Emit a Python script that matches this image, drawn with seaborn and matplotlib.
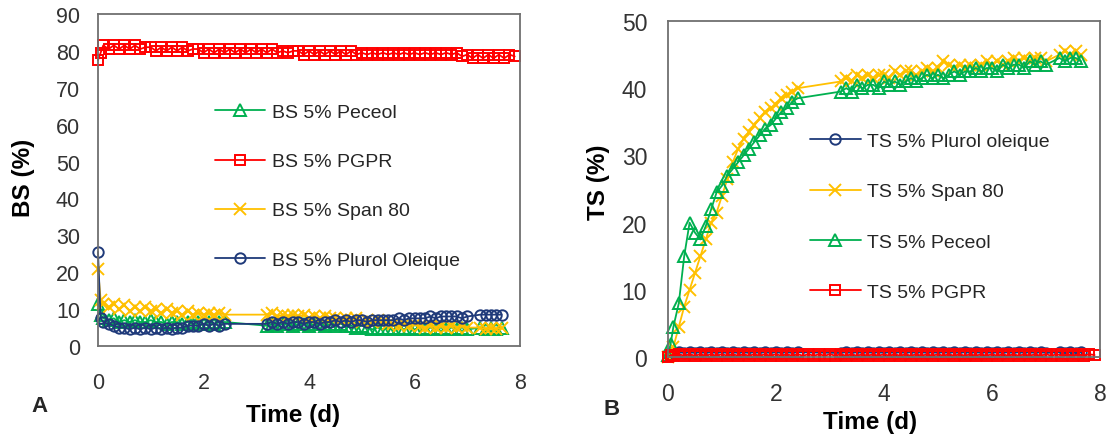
import numpy as np
import pandas as pd
import matplotlib
matplotlib.use("Agg")
import matplotlib.pyplot as plt
import seaborn as sns

# ---------------- data ----------------
# sampling times (days) for the Peceol / Span 80 / Plurol series
time_main = [0.0, 0.05, 0.1, 0.2, 0.3, 0.4, 0.5, 0.6, 0.7, 0.8, 0.9, 1.0, 1.1, 1.2, 1.3,
             1.4, 1.5, 1.6, 1.7, 1.8, 1.9, 2.0, 2.1, 2.2, 2.3, 2.4,
             3.2, 3.3, 3.4, 3.5, 3.6, 3.7, 3.8, 3.9, 4.0, 4.1, 4.2, 4.3, 4.4,
             4.5, 4.6, 4.7, 4.8, 4.9, 5.0, 5.1, 5.2, 5.3, 5.4, 5.5,
             5.6, 5.7, 5.8, 5.9, 6.0, 6.1, 6.2, 6.3, 6.4, 6.5, 6.6, 6.7, 6.8, 6.9, 7.0,
             7.25, 7.35, 7.45, 7.55, 7.65]
# sampling times (days) for the PGPR series (continuous)
time_pgpr = [0.0, 0.05, 0.1, 0.2, 0.3, 0.4, 0.5, 0.6, 0.7, 0.8, 0.9,
             1.0, 1.1, 1.2, 1.3, 1.4, 1.5, 1.6, 1.7, 1.8,
             1.9, 2.0, 2.1, 2.2, 2.3, 2.4, 2.5, 2.6, 2.7, 2.8, 2.9, 3.0, 3.1, 3.2, 3.3, 3.4, 3.5, 3.6, 3.7,
             3.8, 3.9, 4.0, 4.1, 4.2, 4.3, 4.4, 4.5, 4.6, 4.7, 4.8, 4.9, 5.0, 5.1, 5.2, 5.3,
             5.4, 5.5, 5.6, 5.7, 5.8, 5.9, 6.0, 6.1, 6.2, 6.3, 6.4, 6.5, 6.6, 6.7, 6.8, 6.9,
             7.0, 7.1, 7.2, 7.3, 7.4, 7.5, 7.6, 7.7, 7.8, 7.9]

# ---- Panel A : BS (%) ----
bs_peceol = [11.5, 8.5, 7.5, 7.0, 7.5, 6.5, 7.0, 6.5, 7.0, 6.5, 6.5, 7.0, 6.5, 6.5, 6.0, 6.5,
             6.5, 6.0, 6.5, 6.0, 6.5, 6.0, 6.5, 6.0, 6.5, 6.5,
             5.5, 6.0, 5.5, 6.0, 6.0, 5.5, 6.0, 6.0, 5.5, 6.0, 6.0, 5.5, 6.0,
             5.5, 6.0, 5.5, 5.5, 5.0, 5.5, 5.0, 4.5, 5.0, 4.5, 5.0,
             4.5, 5.0, 4.5, 5.0, 4.5, 5.0, 4.5, 5.0, 4.5, 5.0, 4.5, 5.0, 4.5, 5.0, 4.5,
             5.0, 4.5, 5.0, 4.5, 5.0]
bs_span80 = [21.0, 12.5, 11.5, 10.5, 11.5, 10.0, 11.0, 9.5, 10.5, 9.5, 10.5, 9.5, 10.0, 9.0,
             10.0, 9.0, 9.5, 8.5, 9.5, 8.5, 9.0, 8.5, 9.0, 8.5, 9.0, 8.5,
             8.5, 9.0, 8.0, 8.5, 8.0, 8.5, 8.0, 8.5, 7.5, 8.0, 7.5, 8.0, 7.5,
             7.5, 7.0, 7.5, 7.0, 7.5, 6.5, 7.0, 6.5, 7.0, 6.5, 6.0,
             6.0, 5.5, 6.0, 5.5, 6.0, 5.5, 5.0, 5.5, 5.0, 5.5, 5.0, 5.5, 5.0, 5.5, 5.0,
             5.0, 4.5, 5.0, 4.5, 5.0]
bs_plurol = [25.5, 7.5, 6.5, 6.0, 5.5, 5.0, 5.0, 4.5, 5.0, 4.5, 5.0, 4.5, 5.0, 4.5, 5.0, 4.5,
             5.0, 5.0, 5.5, 5.5, 5.5, 6.0, 5.5, 6.0, 5.5, 6.0,
             6.0, 6.5, 6.0, 6.5, 6.0, 6.5, 6.5, 6.0, 6.5, 6.5, 6.0, 6.5, 6.5,
             7.0, 6.5, 7.0, 6.5, 7.0, 7.0, 6.5, 7.0, 7.0, 7.0, 7.0,
             7.0, 7.5, 7.0, 7.5, 7.5, 7.5, 7.5, 8.0, 7.5, 8.0, 8.0, 8.0, 8.0, 7.5, 8.0,
             8.5, 8.5, 8.5, 8.5, 8.5]
bs_pgpr = [77.5, 79.5,
           81.5, 80.5, 81.5, 80.5, 81.5, 80.5, 81.5, 80.5, 81.0,
           81.0, 80.0, 81.0, 80.0, 81.0, 80.0, 81.0, 80.0, 80.5,
           80.5, 79.5, 80.5, 79.5, 80.5, 79.5, 80.5, 79.5, 80.5, 79.5, 80.5, 79.5, 80.5, 79.5,
           80.5, 79.5, 80.0, 79.5, 80.0,
           80.0, 79.0, 80.0, 79.0, 80.0, 79.0, 80.0, 79.0, 80.0, 79.0, 80.0, 79.0, 79.5, 79.0,
           79.5, 79.0, 79.5, 79.0, 79.5, 79.0, 79.5, 79.0, 79.5, 79.0, 79.5, 79.0, 79.5, 79.0,
           79.5, 79.0, 79.5, 78.5,
           79.0, 78.0, 79.0, 78.0, 79.0, 78.0, 79.0, 78.0, 79.0, 78.5]

# ---- Panel B : TS (%) ----
ts_peceol = [0.3, 2.0, 4.5, 8.0, 15.0, 20.0, 18.5, 17.5, 19.5, 22.0, 24.5, 25.5, 27.0, 28.0,
             29.0, 30.0, 31.0, 32.0, 33.0, 34.0, 34.5, 35.5, 36.5, 37.0, 38.0, 38.5,
             39.5, 40.0, 39.5, 40.5, 40.0, 40.5, 40.5, 40.0, 41.0, 40.5, 41.0, 40.5, 41.0,
             41.5, 41.0, 41.5, 42.0, 41.5, 42.0, 41.5, 42.0, 42.5, 42.0, 42.5,
             42.5, 43.0, 42.5, 43.0, 43.0, 42.5, 43.5, 43.0, 43.5, 43.5, 43.0, 44.0, 43.5, 44.0, 43.5,
             44.5, 44.0, 44.5, 44.5, 44.0]
ts_span80 = [0.0, 0.3, 1.5, 4.5, 7.5, 10.0, 12.5, 15.0, 17.5, 20.0, 21.5, 24.0, 26.5, 29.0,
             31.0, 32.5, 33.5, 34.5, 35.5, 36.5, 37.0, 37.5, 38.5, 39.0, 39.5, 40.0,
             41.0, 41.5, 41.0, 42.0, 41.5, 42.0, 41.5, 42.0, 42.0, 41.5, 42.5, 42.0, 42.5,
             42.5, 42.0, 42.5, 43.0, 42.5, 43.0, 44.0, 43.5, 43.0, 43.5, 43.0,
             43.5, 43.0, 43.5, 44.0, 43.5, 44.0, 43.5, 44.0, 44.5, 44.0, 44.5, 44.0, 44.5, 44.5, 44.0,
             45.0, 45.5, 45.0, 45.5, 45.0]
ts_plurol = [0.4, 0.6, 0.6, 0.7, 0.6, 0.7, 0.6, 0.7, 0.6, 0.7, 0.6, 0.7, 0.6, 0.7, 0.6, 0.7,
             0.6, 0.7, 0.6, 0.7, 0.6, 0.7, 0.6, 0.7, 0.6, 0.7,
             0.6, 0.7, 0.6, 0.7, 0.6, 0.7, 0.6, 0.7, 0.6, 0.7, 0.6, 0.7, 0.6,
             0.7, 0.6, 0.7, 0.6, 0.7, 0.6, 0.7, 0.6, 0.7, 0.6, 0.7,
             0.6, 0.7, 0.6, 0.7, 0.6, 0.7, 0.6, 0.7, 0.6, 0.7, 0.6, 0.7, 0.6, 0.7, 0.6,
             0.7, 0.6, 0.7, 0.6, 0.7]
ts_pgpr = [0.0, 0.3,
           0.2, 0.4, 0.2, 0.4, 0.2, 0.4, 0.2, 0.4, 0.2,
           0.4, 0.2, 0.4, 0.2, 0.4, 0.2, 0.4, 0.2, 0.4,
           0.2, 0.4, 0.2, 0.4, 0.2, 0.4, 0.2, 0.4, 0.2, 0.4, 0.2, 0.4, 0.2, 0.4,
           0.2, 0.4, 0.2, 0.4, 0.2,
           0.4, 0.2, 0.4, 0.2, 0.4, 0.2, 0.4, 0.2, 0.4, 0.2, 0.4, 0.2, 0.4, 0.2,
           0.4, 0.2, 0.4, 0.2, 0.4, 0.2, 0.4, 0.2, 0.4, 0.2, 0.4, 0.2, 0.4, 0.2,
           0.4, 0.2, 0.4, 0.2,
           0.4, 0.2, 0.4, 0.2, 0.4, 0.2, 0.4, 0.2, 0.4, 0.3]

labels_A = ["BS 5% Peceol", "BS 5% PGPR", "BS 5% Span 80", "BS 5% Plurol Oleique"]
labels_B = ["TS 5% Plurol oleique", "TS 5% Span 80", "TS 5% Peceol", "TS 5% PGPR"]
x_ticks = [0, 2, 4, 6, 8]
y_ticks_A = [0, 10, 20, 30, 40, 50, 60, 70, 80, 90]
y_ticks_B = [0, 10, 20, 30, 40, 50]

# ---------------- styling ----------------
sns.set_theme(style="white")
plt.rcParams["font.family"] = ["Liberation Sans", "DejaVu Sans"]

C_GREEN = "#00B050"
C_RED = "#FF0000"
C_YELLOW = "#FFC000"
C_BLUE = "#1F3A7A"
STY = {
    "Peceol": dict(color=C_GREEN, marker="^", ms=8.5),
    "PGPR": dict(color=C_RED, marker="s", ms=7.5),
    "Span 80": dict(color=C_YELLOW, marker="x", ms=8.5),
    "Plurol": dict(color=C_BLUE, marker="o", ms=7.5),
}

W, H = 1113, 439
fig = plt.figure(figsize=(W / 100, H / 100), dpi=100)
fig.patch.set_facecolor("white")

ax1 = fig.add_axes([98 / W, 1 - 347 / H, (520 - 98) / W, (347 - 15) / H])
ax2 = fig.add_axes([668 / W, 1 - 358 / H, (1100 - 668) / W, (358 - 22) / H])


def draw(ax, t, v, key, label):
    s = STY[key]
    df = pd.DataFrame({"t": t, "v": v})
    sns.lineplot(data=df, x="t", y="v", ax=ax, estimator=None, sort=False,
                 color=s["color"], marker=s["marker"], markersize=s["ms"],
                 markerfacecolor="none", markeredgecolor=s["color"],
                 markeredgewidth=1.4, linewidth=1.3, label=label,
                 clip_on=False, legend=False)


# Panel A (series order = legend order)
draw(ax1, time_main, bs_peceol, "Peceol", labels_A[0])
draw(ax1, time_pgpr, bs_pgpr, "PGPR", labels_A[1])
draw(ax1, time_main, bs_span80, "Span 80", labels_A[2])
draw(ax1, time_main, bs_plurol, "Plurol", labels_A[3])

# Panel B
draw(ax2, time_main, ts_plurol, "Plurol", labels_B[0])
draw(ax2, time_main, ts_span80, "Span 80", labels_B[1])
draw(ax2, time_main, ts_peceol, "Peceol", labels_B[2])
draw(ax2, time_pgpr, ts_pgpr, "PGPR", labels_B[3])

for ax, yt, ylab, tfs in [(ax1, y_ticks_A, "BS (%)", 15.5), (ax2, y_ticks_B, "TS (%)", 16.5)]:
    ax.set_xlim(0, 8)
    ax.set_ylim(yt[0], yt[-1])
    ax.set_xticks(x_ticks)
    ax.set_yticks(yt)
    ax.set_xticklabels([str(x) for x in x_ticks])
    ax.set_yticklabels([str(y) for y in yt])
    ax.tick_params(axis="both", length=0, labelsize=tfs, labelcolor="#333333")
    for sp in ax.spines.values():
        sp.set_visible(True)
        sp.set_color("#707070")
        sp.set_linewidth(1.3)
    ax.set_xlabel("Time (d)", fontsize=17.5, fontweight="bold", color="black")
    ax.set_ylabel(ylab, fontsize=17.5, fontweight="bold", color="black")
    ax.grid(False)
    ax.set_facecolor("white")

ax1.tick_params(axis="x", pad=19)
ax1.tick_params(axis="y", pad=13)
ax2.tick_params(axis="x", pad=18)
ax2.tick_params(axis="y", pad=15)

ax1.xaxis.set_label_coords(0.462, -0.172)
ax1.yaxis.set_label_coords(-0.149, 0.509)
ax2.xaxis.set_label_coords(0.468, -0.158)
ax2.yaxis.set_label_coords(-0.134, 0.524)

# legends
h1 = ax1.get_lines()
ax1.legend(h1, labels_A, loc="upper left", bbox_to_anchor=(0.277, 0.73),
           frameon=False, fontsize=14, handlelength=2.6, handletextpad=0.35,
           labelspacing=1.62, numpoints=1, borderpad=0, borderaxespad=0)
h2 = ax2.get_lines()
ax2.legend(h2, labels_B, loc="upper left", bbox_to_anchor=(0.329, 0.668),
           frameon=False, fontsize=14, handlelength=2.6, handletextpad=0.35,
           labelspacing=1.68, numpoints=1, borderpad=0, borderaxespad=0)

fig.text(40 / W, 1 - 407 / H, "A", fontsize=16, fontweight="bold", ha="center", va="center")
fig.text(612 / W, 1 - 410 / H, "B", fontsize=16, fontweight="bold", ha="center", va="center")

fig.savefig("out.png", dpi=100, facecolor="white")
